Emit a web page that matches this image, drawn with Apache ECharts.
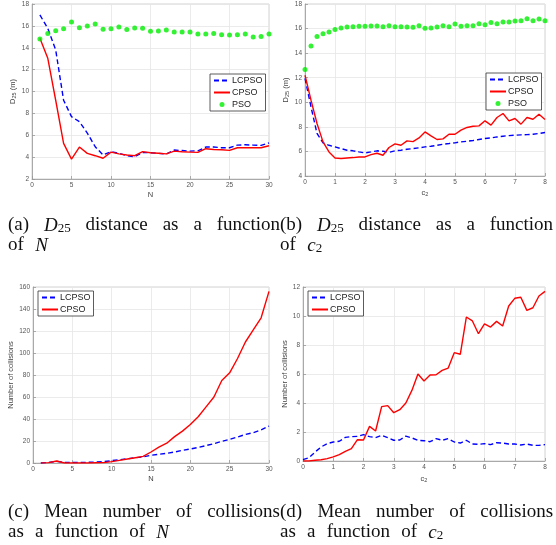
<!DOCTYPE html>
<html><head><meta charset="utf-8">
<script src="https://cdn.jsdelivr.net/npm/echarts@6/dist/echarts.min.js"></script>
<style>html,body{margin:0;padding:0;background:#fff}#c{width:556px;height:545px}</style>
</head><body><div id="c"></div>
<script>
// ---- data ----
const nA = [1,2,3,4,5,6,7,8,9,10,11,12,13,14,15,16,17,18,19,20,21,22,23,24,25,26,27,28,29,30];
const lcpsoA = [17.0,15.77,13.8,9.2,7.7,7.24,6.2,4.95,4.2,4.5,4.35,4.13,4.04,4.43,4.4,4.35,4.28,4.65,4.6,4.55,4.58,4.92,4.92,4.86,4.86,5.1,5.13,5.1,5.07,5.3];
const cpsoA = [14.86,13.03,9.2,5.26,3.82,4.92,4.34,4.13,3.9,4.46,4.3,4.19,4.13,4.5,4.4,4.35,4.3,4.55,4.49,4.46,4.43,4.77,4.7,4.68,4.62,4.86,4.86,4.86,4.86,5.04];
const psoA = [14.8,15.3,15.56,15.74,16.35,15.84,16.0,16.17,15.7,15.74,15.9,15.68,15.8,15.78,15.5,15.53,15.62,15.44,15.44,15.44,15.26,15.26,15.3,15.2,15.17,15.2,15.26,14.98,15.04,15.26];

const c2B = [0,0.2,0.4,0.6,0.8,1,1.2,1.4,1.6,1.8,2,2.2,2.4,2.6,2.8,3,3.2,3.4,3.6,3.8,4,4.2,4.4,4.6,4.8,5,5.2,5.4,5.6,5.8,6,6.2,6.4,6.6,6.8,7,7.2,7.4,7.6,7.8,8];
const lcpsoB = [11.94,9.63,7.46,6.7,6.5,6.37,6.23,6.1,6.05,5.96,5.88,5.96,6.05,6.02,5.93,6.05,6.1,6.18,6.23,6.29,6.37,6.42,6.5,6.59,6.64,6.7,6.78,6.83,6.89,6.97,7.05,7.1,7.18,7.24,7.29,7.32,7.35,7.37,7.4,7.46,7.54];
const cpsoB = [12.2,10.17,8.27,6.78,5.96,5.47,5.42,5.47,5.5,5.55,5.55,5.74,5.85,5.69,6.32,6.61,6.5,6.86,6.8,7.1,7.59,7.27,6.97,7.02,7.4,7.4,7.73,7.95,8.05,8.08,8.49,8.14,8.76,9.09,8.49,8.68,8.22,8.76,8.62,9.03,8.6];
const psoB = [12.67,14.58,15.36,15.58,15.72,15.93,16.04,16.12,16.15,16.18,16.18,16.2,16.2,16.15,16.23,16.15,16.15,16.12,16.1,16.23,16.02,16.04,16.12,16.23,16.15,16.37,16.18,16.23,16.23,16.4,16.32,16.5,16.4,16.53,16.53,16.61,16.64,16.8,16.64,16.78,16.64];

const nC = [1,2,3,4,5,6,7,8,9,10,11,12,13,14,15,16,17,18,19,20,21,22,23,24,25,26,27,28,29,30];
const lcpsoC = [0,0.6,1.5,0.6,0.6,0.6,0.6,0.9,1.2,2.1,3,3.9,4.8,5.5,7,7.9,8.8,10,11.5,12.7,14.2,15.8,17.6,19.7,21.5,23.6,26,27.6,30,33.6];
const cpsoC = [0,0.3,1.8,0,0,0,0,0.2,0.3,1.2,2.4,3.6,4.8,6,10,14.5,18,24,29,35,42,51,60,75,82,95,110,121,132,156];

const c2D = [0,0.2,0.4,0.6,0.8,1,1.2,1.4,1.6,1.8,2,2.2,2.4,2.6,2.8,3,3.2,3.4,3.6,3.8,4,4.2,4.4,4.6,4.8,5,5.2,5.4,5.6,5.8,6,6.2,6.4,6.6,6.8,7,7.2,7.4,7.6,7.8,8];
const lcpsoD = [0.09,0.23,0.62,0.97,1.2,1.31,1.36,1.63,1.68,1.7,1.82,1.68,1.61,1.77,1.61,1.43,1.45,1.72,1.59,1.43,1.4,1.33,1.54,1.43,1.54,1.31,1.24,1.43,1.17,1.15,1.2,1.13,1.26,1.24,1.17,1.17,1.1,1.17,1.08,1.08,1.13];
const cpsoD = [0,0,0.05,0.09,0.16,0.28,0.44,0.67,0.85,1.47,1.45,2.39,2.07,3.75,3.82,3.33,3.54,4.0,4.87,6.0,5.52,5.93,5.95,6.25,6.41,7.47,7.36,9.93,9.66,8.78,9.45,9.24,9.63,9.31,10.69,11.22,11.29,10.39,10.57,11.38,11.7];

const legendNames3 = ['LCPSO','CPSO','PSO'];
const legendNames2 = ['LCPSO','CPSO'];

// ---- styling helpers ----
const SANS = '"Liberation Sans", Arial, sans-serif';
const SERIF = '"Liberation Serif", "Times New Roman", serif';
const BLUE = '#0000ff', RED = '#ff0000', GREEN = '#00ee00';

const grids = [
  {left:32, top:4, width:237, height:175},
  {left:305, top:4, width:240, height:172},
  {left:33, top:287, width:236, height:176},
  {left:303, top:287, width:242, height:174}
].map(g => Object.assign({show:true, borderColor:'#c8c8c8', borderWidth:0.8, backgroundColor:'#fff'}, g));

const nameRich = {
  a:{fontFamily:SANS, fontSize:7.5, color:'#444'},
  b:{fontFamily:SANS, fontSize:5.5, color:'#444', verticalAlign:'bottom', padding:[3,0,0,0]}
};
function xAxis(gi, min, max, interval, name, gap){
  return {type:'value', gridIndex:gi, min, max, interval, name, nameLocation:'middle', nameGap:gap,
    nameTextStyle:{fontFamily:SANS, fontSize:7.5, color:'#444', rich:nameRich},
    axisLine:{show:true, onZero:false, lineStyle:{color:'#999', width:0.8}},
    axisTick:{show:true, inside:true, length:3, lineStyle:{color:'#999', width:0.8}},
    axisLabel:{fontFamily:SANS, fontSize:6.5, color:'#555', margin:3},
    splitLine:{show:true, lineStyle:{color:'#e6e6e6', width:0.8}}};
}
function yAxis(gi, min, max, interval, name, gap){
  return {type:'value', gridIndex:gi, min, max, interval, name, nameLocation:'middle', nameGap:gap, nameRotate:90,
    nameTextStyle:{fontFamily:SANS, fontSize:7.5, color:'#444', rich:nameRich},
    axisLine:{show:true, onZero:false, lineStyle:{color:'#999', width:0.8}},
    axisTick:{show:true, inside:true, length:3, lineStyle:{color:'#999', width:0.8}},
    axisLabel:{fontFamily:SANS, fontSize:6.5, color:'#555', margin:3},
    splitLine:{show:true, lineStyle:{color:'#e6e6e6', width:0.8}}};
}
const zip = (xs, ys) => xs.map((x,i)=>[x, ys[i]]);
function lineSeries(name, gi, xs, ys, color, dashed){
  return {type:'line', name, xAxisIndex:gi, yAxisIndex:gi, data:zip(xs,ys), symbol:'none', animation:false,
    lineStyle:{color, width:1.4, type: dashed ? [5,3] : 'solid'}, itemStyle:{color}, z:3};
}
function dotSeries(name, gi, xs, ys){
  return {type:'scatter', name, xAxisIndex:gi, yAxisIndex:gi, data:zip(xs,ys), symbol:'circle', symbolSize:5,
    itemStyle:{color:GREEN}, animation:false, z:4};
}
const HIDE = {color:'rgba(0,0,0,0)', borderColor:'rgba(0,0,0,0)', borderWidth:0, opacity:0};
function legend(left, top, names){
  const data = names.map(n => n === 'PSO' ? {name:n} : {name:n, itemStyle:HIDE});
  return {show:true, orient:'vertical', left, top, data, itemWidth:16, itemHeight:5, itemGap:3,
    padding:[2,3,2,3], backgroundColor:'#fff', borderColor:'#333', borderWidth:0.8, borderRadius:0,
    textStyle:{fontFamily:SANS, fontSize:9, color:'#222', padding:[0,0,0,-3]}, selectedMode:false, z:10};
}

// ---- captions (justified like the LaTeX subcaptions) ----
const CAP = 19, SUB = 13;
const ctx = document.createElement('canvas').getContext('2d');
function fontOf(s){ return s==='i' ? `italic ${CAP}px ${SERIF}` : s==='s' ? `${SUB}px ${SERIF}` : `${CAP}px ${SERIF}`; }
function wordWidth(w){ return w.reduce((a,[s,t])=>{ctx.font=fontOf(s); return a+ctx.measureText(t).width;},0); }
function spaceFor(words, target){ const nat = words.reduce((a,w)=>a+wordWidth(w),0); return (target-nat)/(words.length-1); }
function capText(words, sp){ return words.map(w=>w.map(([s,t])=>`{${s}|${t}}`).join('')).join(`{sp| }`); }
const capRich = sp => ({
  n:{fontFamily:SERIF, fontSize:CAP, color:'#111'},
  i:{fontFamily:SERIF, fontSize:CAP, fontStyle:'italic', color:'#111'},
  s:{fontFamily:SERIF, fontSize:SUB, color:'#111', verticalAlign:'bottom', padding:[5,0,0,0]},
  sp:{fontFamily:SERIF, fontSize:CAP, width:sp}
});
const capA1 = [[['n','(a)']],[['i','D'],['s','25']],[['n','distance']],[['n','as']],[['n','a']],[['n','function']]];
const capA2 = [[['n','of']],[['i','N']]];
const capB1 = [[['n','(b)']],[['i','D'],['s','25']],[['n','distance']],[['n','as']],[['n','a']],[['n','function']]];
const capB2 = [[['n','of']],[['i','c'],['s','2']]];
const capC1 = [[['n','(c)']],[['n','Mean']],[['n','number']],[['n','of']],[['n','collisions']]];
const capC2 = [[['n','as']],[['n','a']],[['n','function']],[['n','of']],[['i','N']]];
const capD1 = [[['n','(d)']],[['n','Mean']],[['n','number']],[['n','of']],[['n','collisions']]];
const capD2 = [[['n','as']],[['n','a']],[['n','function']],[['n','of']],[['i','c'],['s','2']]];
const sp1 = spaceFor(capA1, 272), sp2 = spaceFor(capA2, 40);
const sp3 = spaceFor(capC1, 272), sp4 = spaceFor(capC2, 161);
function capEl(x, y, words, sp){
  return {type:'text', left:x, top:y, z:20, style:{text:capText(words, sp), rich:capRich(sp), fill:'#111', font:`${CAP}px ${SERIF}`}};
}

const option = {
  backgroundColor:'#fff',
  animation:false,
  grid: grids,
  xAxis:[
    xAxis(0,0,30,5,'N',12),
    xAxis(1,0,8,1,'{a|c}{b|2}',12),
    xAxis(2,0,30,5,'N',12),
    xAxis(3,0,8,1,'{a|c}{b|2}',13)
  ],
  yAxis:[
    yAxis(0,2,18,2,'{a|D}{b|25}{a| (m)}',15),
    yAxis(1,4,18,2,'{a|D}{b|25}{a| (m)}',15),
    yAxis(2,0,160,20,'Number of collisions',17),
    yAxis(3,0,12,2,'Number of collisions',13)
  ],
  legend:[
    legend(210,74,legendNames3),
    legend(486,73,legendNames3),
    legend(38,291,legendNames2),
    legend(308,291,legendNames2)
  ],
  series:[
    lineSeries('LCPSO',0,nA,lcpsoA,BLUE,true),
    lineSeries('CPSO',0,nA,cpsoA,RED,false),
    dotSeries('PSO',0,nA,psoA),
    lineSeries('LCPSO',1,c2B,lcpsoB,BLUE,true),
    lineSeries('CPSO',1,c2B,cpsoB,RED,false),
    dotSeries('PSO',1,c2B,psoB),
    lineSeries('LCPSO',2,nC,lcpsoC,BLUE,true),
    lineSeries('CPSO',2,nC,cpsoC,RED,false),
    lineSeries('LCPSO',3,c2D,lcpsoD,BLUE,true),
    lineSeries('CPSO',3,c2D,cpsoD,RED,false)
  ],
  graphic:[
    capEl(8, 216, capA1, sp1),
    capEl(8, 236, capA2, sp2),
    capEl(280, 216, capB1, sp1),
    capEl(280, 236, capB2, sp2),
    capEl(8, 503, capC1, sp3),
    capEl(8, 523, capC2, sp4),
    capEl(280, 503, capD1, sp3),
    capEl(280, 523, capD2, sp4)
  ]
};
const chart = echarts.init(document.getElementById('c'), null, {renderer:'canvas'});
chart.setOption(option);
</script></body></html>
